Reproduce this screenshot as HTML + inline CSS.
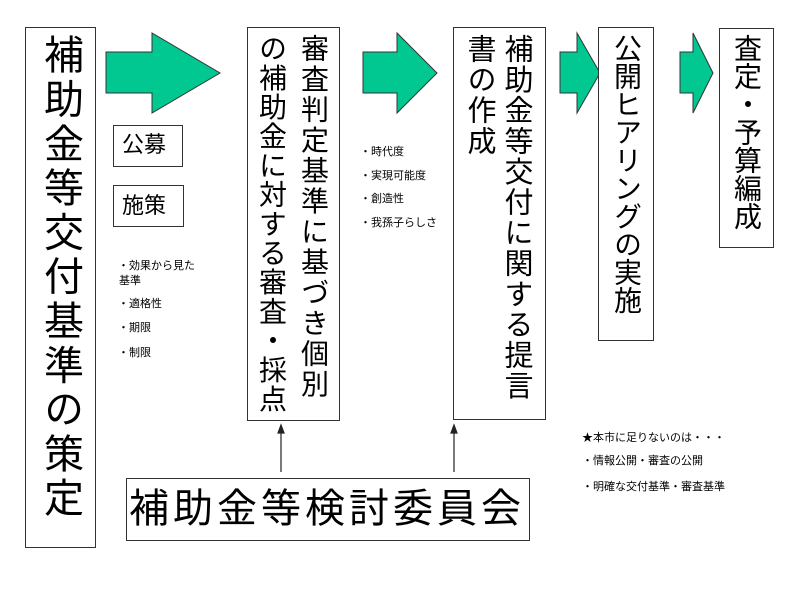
<!DOCTYPE html>
<html><head><meta charset="utf-8"><style>
body{margin:0;width:800px;height:600px;background:#fff;position:relative;overflow:hidden;font-family:"Liberation Sans","Noto Sans CJK JP",sans-serif;color:#000}
.b{position:absolute;border:1.5px solid #333;box-sizing:border-box;background:#fff}
.v{position:absolute;writing-mode:vertical-rl;white-space:nowrap;line-height:1}
.t{position:absolute;white-space:nowrap;font-size:11px;line-height:1}
</style></head><body>
<svg style="position:absolute;left:0;top:0" width="800" height="600">
<g fill="#00c890" stroke="#333" stroke-width="1">
<polygon points="106,52 152,52 152,33 220,73 152,113 152,93 106,93"/>
<polygon points="363,52 397,52 397,33 437,73 397,113 397,93 363,93"/>
<polygon points="560,52 577,52 577,33 600,73 577,113 577,93 560,93"/>
<polygon points="680,52 693,52 693,33 713,73 693,113 693,93 680,93"/>
</g>
<g stroke="#222" stroke-width="1.2" fill="#222">
<line x1="281" y1="472" x2="281" y2="432"/><polygon points="281,425 278,433 284,433"/>
<line x1="454" y1="472" x2="454" y2="432"/><polygon points="454,425 451,433 457,433"/>
</g>
</svg>
<div class="b" style="left:25px;top:27px;width:71px;height:521px"></div>
<div class="v" style="left:40px;top:34px;font-size:40px;letter-spacing:4.3px">補助金等交付基準の策定</div>

<div class="b" style="left:113px;top:125px;width:70px;height:42px"></div>
<div class="t" style="left:122px;top:134px;font-size:22px">公募</div>
<div class="b" style="left:113px;top:185px;width:71px;height:42px"></div>
<div class="t" style="left:122px;top:195px;font-size:22px">施策</div>

<div class="t" style="left:118px;top:261px">・効果から見た</div>
<div class="t" style="left:119px;top:276px">基準</div>
<div class="t" style="left:118px;top:299px">・適格性</div>
<div class="t" style="left:118px;top:323px">・期限</div>
<div class="t" style="left:118px;top:348px">・制限</div>

<div class="b" style="left:247px;top:27px;width:93px;height:394px"></div>
<div class="v" style="left:299px;top:34px;font-size:28px;letter-spacing:2.5px">審査判定基準に基づき個別</div>
<div class="v" style="left:257px;top:34px;font-size:28px;letter-spacing:1.2px">の補助金に対する審査・採点</div>

<div class="t" style="left:360px;top:147px">・時代度</div>
<div class="t" style="left:360px;top:171px">・実現可能度</div>
<div class="t" style="left:360px;top:194px">・創造性</div>
<div class="t" style="left:360px;top:218px">・我孫子らしさ</div>

<div class="b" style="left:453px;top:27px;width:93px;height:393px"></div>
<div class="v" style="left:501px;top:34px;font-size:29px;letter-spacing:1.6px">補助金等交付に関する提言</div>
<div class="v" style="left:464px;top:34px;font-size:29px;letter-spacing:1.6px">書の作成</div>

<div class="b" style="left:598px;top:27px;width:56px;height:314px"></div>
<div class="v" style="left:612px;top:34px;font-size:28px">公開ヒアリングの実施</div>

<div class="b" style="left:719px;top:28px;width:55px;height:220px"></div>
<div class="v" style="left:732px;top:34px;font-size:28px">査定・予算編成</div>

<div class="t" style="left:582px;top:433px">★本市に足りないのは・・・</div>
<div class="t" style="left:582px;top:456px">・情報公開・審査の公開</div>
<div class="t" style="left:582px;top:482px">・明確な交付基準・審査基準</div>

<div class="b" style="left:126px;top:478px;width:404px;height:63px"></div>
<div class="t" style="left:129px;top:489px;font-size:40px;letter-spacing:4px">補助金等検討委員会</div>
</body></html>
